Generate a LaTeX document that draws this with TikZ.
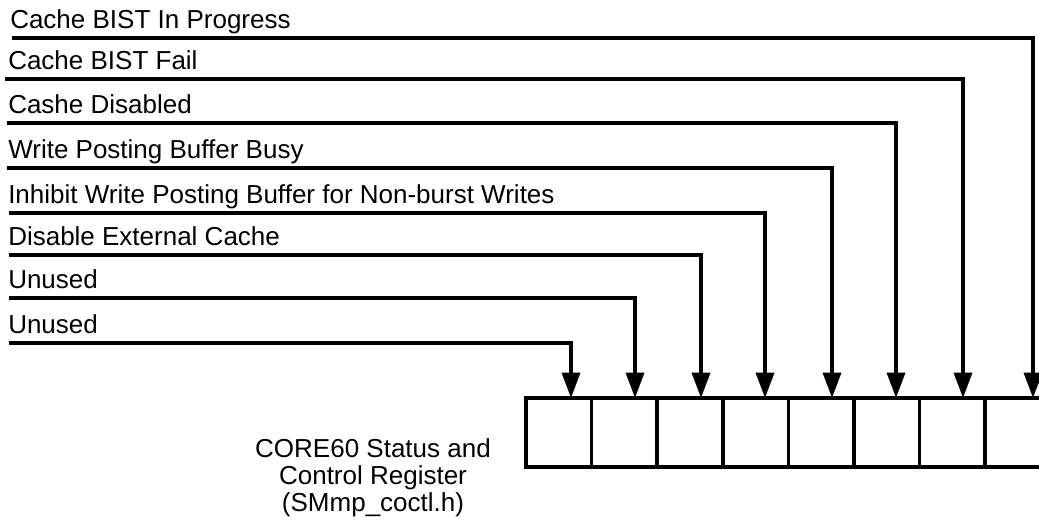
\documentclass[tikz,border=0pt]{standalone}
\usepackage{fontspec}
\setmainfont{Liberation Sans}
\usetikzlibrary{arrows.meta}
\begin{document}
\begin{tikzpicture}[x=0.75pt,y=-0.75pt,
  lbl/.style={anchor=base west,inner sep=0pt,font=\fontsize{19.5pt}{20pt}\selectfont},
  cell/.style={draw,line width=2.6pt,anchor=north west,minimum width=65.6*0.75pt,
    minimum height=69*0.75pt,inner sep=0pt,outer sep=0pt},
  wire/.style={line width=2.6pt,-{Triangle[length=19pt,width=13.5pt]}},
  caption/.style={align=center,inner sep=0pt,font=\fontsize{19.5pt}{20.3pt}\selectfont}]
\useasboundingbox (0,0) rectangle (1039,525);

% register bit cells, bit 7 (left) to bit 0 (right)
\foreach \i in {1,...,8}
  \node[cell] (c\i) at ({526+65.6*(\i-1)},398) {};

% field labels
\node[lbl] (l1) at (10,28)  {Cache BIST In Progress};
\node[lbl] (l2) at (8,69)   {Cache BIST Fail};
\node[lbl] (l3) at (8,113)  {Cashe Disabled};
\node[lbl] (l4) at (8,158)  {Write Posting Buffer Busy};
\node[lbl] (l5) at (8,203)  {Inhibit Write Posting Buffer for Non-burst Writes};
\node[lbl] (l6) at (8,245)  {Disable External Cache};
\node[lbl] (l7) at (8,288)  {Unused};
\node[lbl] (l8) at (8,333)  {Unused};

% start points of the leader lines
\coordinate (s1) at (12,38);
\coordinate (s2) at (5,79);
\coordinate (s3) at (7,123);
\coordinate (s4) at (7,168);
\coordinate (s5) at (9,213);
\coordinate (s6) at (9,255);
\coordinate (s7) at (9,298);
\coordinate (s8) at (9,343);

% leader lines into the cells
\draw[wire] (s1) -| ([xshift=47.8*0.75pt]c8.north west);
\draw[wire] (s2) -| ([xshift=43.4*0.75pt]c7.north west);
\draw[wire] (s3) -| ([xshift=42*0.75pt]c6.north west);
\draw[wire] (s4) -| ([xshift=43.6*0.75pt]c5.north west);
\draw[wire] (s5) -| ([xshift=42.2*0.75pt]c4.north west);
\draw[wire] (s6) -| ([xshift=43.8*0.75pt]c3.north west);
\draw[wire] (s7) -| ([xshift=43.4*0.75pt]c2.north west);
\draw[wire] (s8) -| ([xshift=45*0.75pt]c1.north west);

% register name
\node[caption] (name) at (373,478) {CORE60 Status and\\Control Register\\(SMmp\_coctl.h)};
\end{tikzpicture}
\end{document}
